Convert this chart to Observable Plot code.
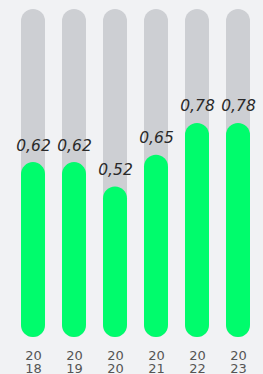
<!DOCTYPE html>
<html>
<head>
<meta charset="utf-8">
<script src="https://cdn.jsdelivr.net/npm/d3@7"></script>
<script src="https://cdn.jsdelivr.net/npm/@observablehq/plot@0.6"></script>
<style>
  html, body { margin: 0; padding: 0; background: #f1f2f4; }
  #chart { width: 263px; height: 374px; }
</style>
</head>
<body>
<div id="chart"></div>
<script>
const years = ["2018", "2019", "2020", "2021", "2022", "2023"];
const values = [0.62, 0.62, 0.52, 0.65, 0.78, 0.78];
const labels = ["0,62", "0,62", "0,52", "0,65", "0,78", "0,78"];

const yMin = -0.095;
const yMax = 1.246;

const data = years.map((y, i) => ({year: y, value: values[i], label: labels[i]}));

const chart = Plot.plot({
  width: 263,
  height: 374,
  marginTop: 9,
  marginBottom: 37,
  marginLeft: 0,
  marginRight: 0,
  style: {background: "#f1f2f4", overflow: "visible"},
  x: {domain: years, range: [21, 250], paddingInner: 0.415, paddingOuter: 0, axis: null},
  y: {domain: [yMin, yMax], axis: null},
  marks: [
    Plot.barY(data, {x: "year", y1: yMin, y2: yMax, fill: "#cdcfd3", rx: 12, ry: 12}),
    Plot.barY(data, {x: "year", y1: yMin, y2: "value", fill: "#00fc6c", rx: 12, ry: 12}),
    Plot.text(data, {x: "year", y: "value", text: "label", dy: -17, lineAnchor: "middle",
      fontSize: 15.5, fontStyle: "italic", fill: "#2a2a2a", fontFamily: "DejaVu Sans", ariaLabel: "value-labels"}),
    Plot.text(data, {x: "year", frameAnchor: "bottom", text: d => "20\n" + d.year.slice(2),
      lineAnchor: "top", dy: 14, lineHeight: 0.95, fontSize: 13, fill: "#555",
      fontFamily: "DejaVu Sans", ariaLabel: "year-labels"})
  ]
});
d3.select(chart).selectAll('g[aria-label="year-labels"] text').style("letter-spacing", "1.5px");
document.getElementById("chart").appendChild(chart);
</script>
</body>
</html>
